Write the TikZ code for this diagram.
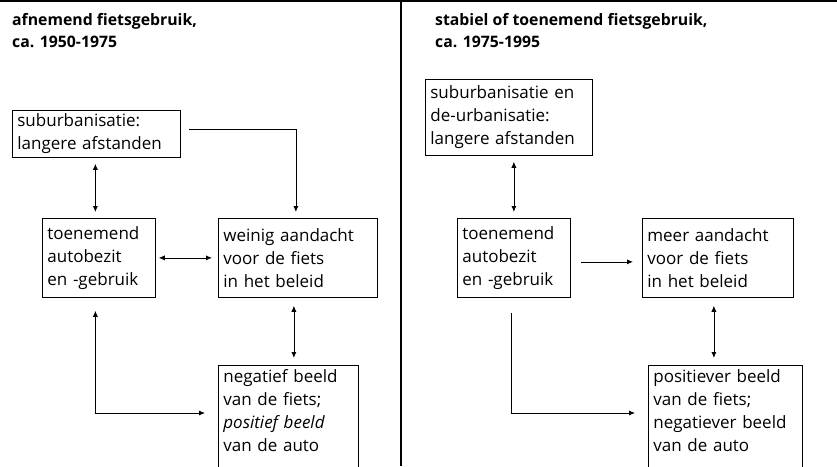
\documentclass[tikz,border=0pt]{standalone}
\usepackage{fontspec}
\setmainfont{Open Sans}
\usetikzlibrary{arrows.meta}

\begin{document}
\begin{tikzpicture}[x=1pt,y=-1pt,
    >={Latex[length=6pt,width=5pt]},
    box/.style={draw, line width=0.75pt, anchor=north west, align=left,
      inner xsep=5pt, inner ysep=0pt, font=\fontsize{17}{23}\selectfont},
    kop/.style={anchor=north west, align=left, inner sep=0pt,
      font=\fontsize{15.8}{22}\selectfont\bfseries},
    pijl/.style={line width=0.75pt}]

    \useasboundingbox (0,0) rectangle (837,466);
    \clip (0,0) rectangle (837,466);

    % frame: rule on top, divider between the two periods
    \draw[line width=2.2pt] (0,1) -- (837,1);
    \draw[line width=1.4pt] (401,0) -- (401,466);

    % left half: 1950-1975
    \node[kop] (kopL) at (12,13) {afnemend fietsgebruik,\\ca. 1950-1975};

    \node[box, text width=158pt, minimum height=47pt] (subL) at (12,110)
        {suburbanisatie:\\langere afstanden};
    \node[box, text width=103pt, minimum height=79pt] (autoL) at (42,218)
        {toenemend\\autobezit\\en -gebruik};
    \node[box, text width=149pt, minimum height=79pt] (beleidL) at (218,218)
        {weinig aandacht\\voor de fiets\\in het beleid};
    \node[box, text width=130pt, inner ysep=4pt] (beeldL) at (218,365)
        {negatief beeld\\van de fiets;\\\textit{positief beeld}\\van de auto\rule[-30pt]{0pt}{1pt}};

    \draw[pijl,<->] ([xshift=-1pt,yshift=-6pt]subL.south) -- ([xshift=-1pt,yshift=6pt]subL.south |- autoL.north);
    \draw[pijl,->] ([xshift=8pt,yshift=5pt]subL.east) -| ([xshift=-2pt,yshift=6pt]beleidL.north);
    \draw[pijl,<->] ([xshift=3pt]autoL.east) -- ([xshift=-6pt]beleidL.west);
    \draw[pijl,<->] ([xshift=-4pt,yshift=-8pt]beleidL.south) -- ([xshift=-4pt,yshift=7pt]beleidL.south |- beeldL.north);
    \draw[pijl,<->] ([xshift=-3.5pt,yshift=-13pt]autoL.south) |- ([xshift=-13pt,yshift=-48pt]beeldL.north west);

    % right half: 1975-1995
    \node[kop] (kopR) at (435,13) {stabiel of toenemend fietsgebruik,\\ca. 1975-1995};

    \node[box, text width=157pt, minimum height=76pt] (subR) at (425,79)
        {suburbanisatie en\\de-urbanisatie:\\langere afstanden};
    \node[box, text width=103pt, minimum height=79pt] (autoR) at (457,218)
        {toenemend\\autobezit\\en -gebruik};
    \node[box, text width=141pt, minimum height=79pt] (beleidR) at (642,218)
        {meer aandacht\\voor de fiets\\in het beleid};
    \node[box, text width=144pt, inner ysep=4pt] (beeldR) at (648,365)
        {positiever beeld\\van de fiets;\\negatiever beeld\\van de auto\rule[-30pt]{0pt}{1pt}};

    \draw[pijl,<->] ([yshift=-6pt]subR.south -| autoR.north) -- ([yshift=6pt]autoR.north);
    \draw[pijl,->] ([xshift=10pt,yshift=-4pt]autoR.east) -- ([xshift=-9pt,yshift=-4pt]beleidR.west);
    \draw[pijl,<->] ([xshift=-4pt,yshift=-8pt]beleidR.south) -- ([xshift=-4pt,yshift=7pt]beleidR.south |- beeldR.north);
    \draw[pijl,->] ([xshift=-2.5pt,yshift=-15pt]autoR.south) |- ([xshift=-13pt,yshift=-48pt]beeldR.north west);
\end{tikzpicture}
\end{document}
